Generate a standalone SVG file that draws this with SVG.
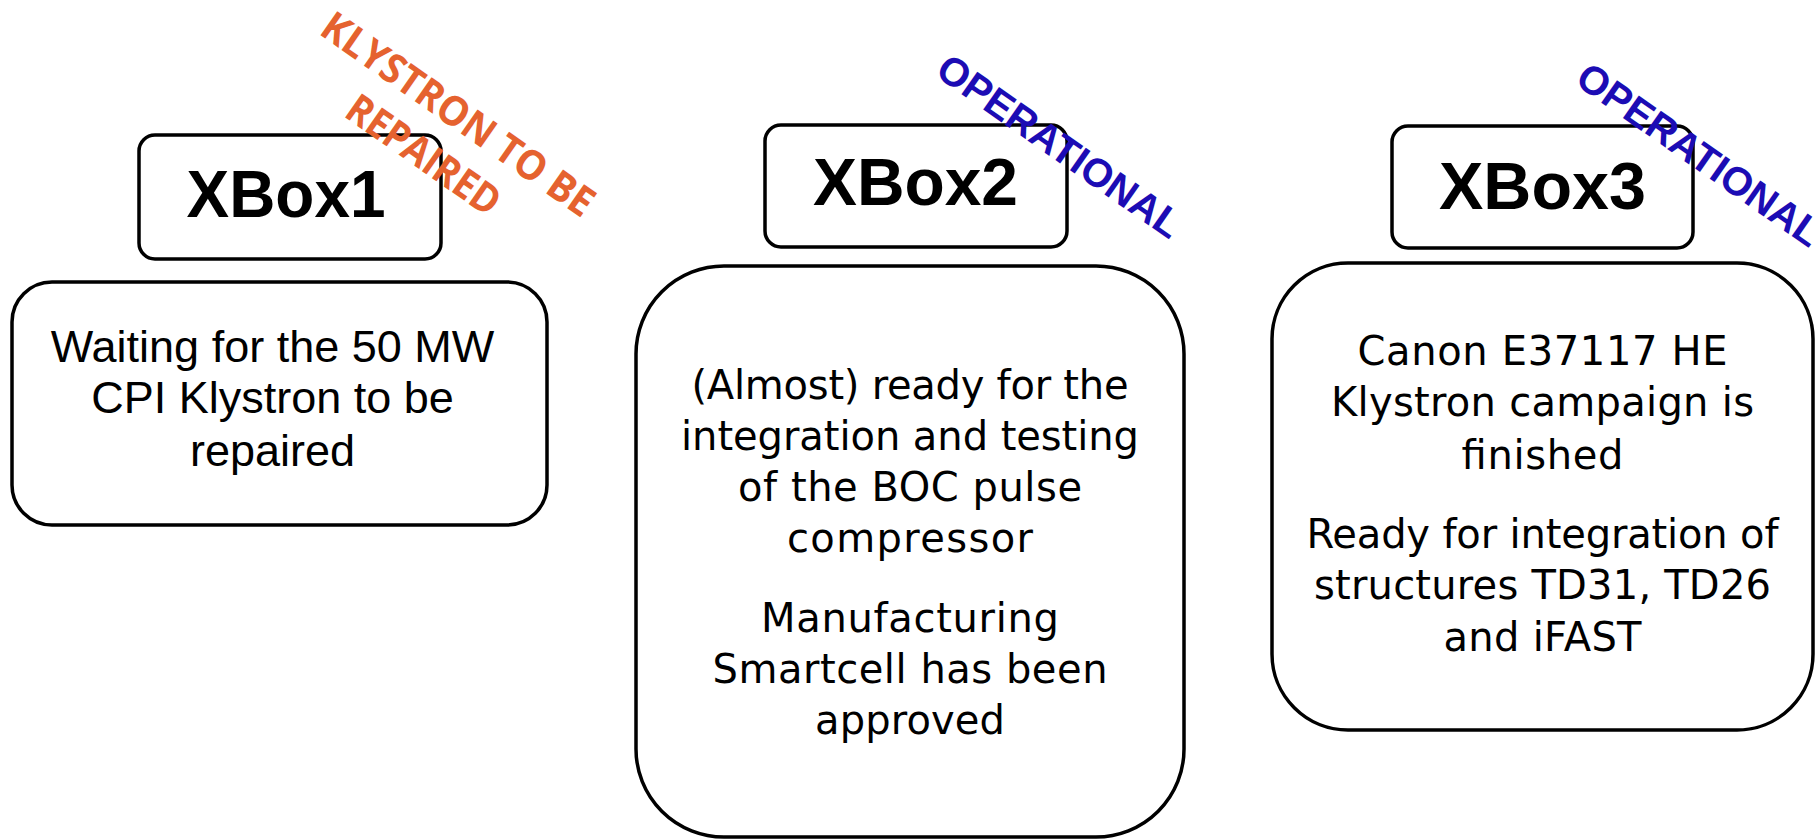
<svg xmlns="http://www.w3.org/2000/svg" width="1816" height="839" viewBox="0 0 1816 839">
<style>
.box{fill:#fff;stroke:#000;stroke-width:3.5}
.title{font-family:"Liberation Sans",Arial,sans-serif;font-weight:bold;font-size:67px;fill:#000;text-anchor:middle}
.t1{font-family:"Liberation Sans",Arial,sans-serif;font-size:45px;fill:#000;text-anchor:middle}
.t2{font-family:"DejaVu Sans",Verdana,sans-serif;font-size:40px;fill:#000;text-anchor:middle}
.rep{font-family:"Open Sans",sans-serif;font-weight:bold;font-size:41px;fill:#E5622F;text-anchor:middle}
.op{font-family:"Liberation Sans",Arial,sans-serif;font-weight:bold;font-size:40px;fill:#1C0CB4;text-anchor:middle}
</style>
<rect width="1816" height="839" fill="#fff"/>
<g id="connectors"/>
<g id="xbox1">
<rect class="box" x="139" y="135" width="302" height="124" rx="16"/>
<text class="title" x="286" y="217" textLength="199" lengthAdjust="spacingAndGlyphs">XBox1</text>
<rect class="box" x="12" y="282" width="535" height="243" rx="40"/>
<text class="t1" x="272.5" y="362">Waiting for the 50 MW</text>
<text class="t1" x="272.5" y="413">CPI Klystron to be</text>
<text class="t1" x="272.5" y="466">repaired</text>
</g>
<g id="xbox1-status" transform="translate(450,126) rotate(35)">
<text class="rep" x="0" y="0" textLength="323" lengthAdjust="spacingAndGlyphs">KLYSTRON TO BE</text>
<text class="rep" x="-5" y="53" textLength="178" lengthAdjust="spacingAndGlyphs">REPAIRED</text>
</g>
<g id="xbox2">
<rect class="box" x="765" y="125" width="302" height="122" rx="16"/>
<text class="title" x="915.5" y="205" textLength="205" lengthAdjust="spacingAndGlyphs">XBox2</text>
<rect class="box" x="636" y="266" width="548" height="571" rx="88"/>
<text class="t2" x="910" y="399" textLength="437">(Almost) ready for the</text>
<text class="t2" x="910" y="450" textLength="458">integration and testing</text>
<text class="t2" x="910" y="501" textLength="344">of the BOC pulse</text>
<text class="t2" x="910" y="552" textLength="246">compressor</text>
<text class="t2" x="910" y="632" textLength="298">Manufacturing</text>
<text class="t2" x="910" y="683" textLength="395">Smartcell has been</text>
<text class="t2" x="910" y="734" textLength="190">approved</text>
</g>
<g id="xbox2-status" transform="translate(1051.7,157.5) rotate(35)">
<text class="op" x="0" y="0">OPERATIONAL</text>
</g>
<g id="xbox3">
<rect class="box" x="1392" y="126" width="301" height="122" rx="16"/>
<text class="title" x="1542.5" y="209" textLength="207" lengthAdjust="spacingAndGlyphs">XBox3</text>
<rect class="box" x="1272" y="263" width="541" height="467" rx="76"/>
<text class="t2" x="1542.5" y="364.5" textLength="370">Canon E37117 HE</text>
<text class="t2" x="1542.5" y="416" textLength="423">Klystron campaign is</text>
<text class="t2" x="1542.5" y="468.5" textLength="162">finished</text>
<text class="t2" x="1542.5" y="547.5" textLength="472">Ready for integration of</text>
<text class="t2" x="1542.5" y="599" textLength="457">structures TD31, TD26</text>
<text class="t2" x="1542.5" y="651" textLength="198">and iFAST</text>
</g>
<g id="xbox3-status" transform="translate(1691.5,166) rotate(35)">
<text class="op" x="0" y="0">OPERATIONAL</text>
</g>
</svg>
